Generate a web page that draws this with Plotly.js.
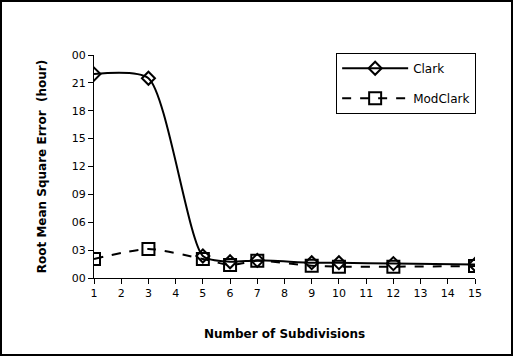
<!DOCTYPE html>
<html>
<head>
<meta charset="utf-8">
<script src="https://cdn.plot.ly/plotly-3.0.1.min.js"></script>
<style>
  html, body { margin: 0; padding: 0; background: #fff; }
  #wrap { position: relative; width: 513px; height: 356px; }
  #chart { width: 513px; height: 356px; }
  #frame { position: absolute; left: 0; top: 0; width: 513px; height: 356px; box-sizing: border-box; border: 2px solid #000; pointer-events: none; }
</style>
</head>
<body>
<div id="wrap"><div id="chart"></div><div id="frame"></div></div>
<script>
const subdivisions = [1, 3, 5, 6, 7, 9, 10, 12, 15];
const clark = [21.95, 21.5, 2.37, 1.75, 1.9, 1.65, 1.65, 1.55, 1.45];
const modClark = [2.05, 3.12, 2.05, 1.4, 1.85, 1.32, 1.22, 1.22, 1.28];
const yTickVals = [0, 3, 6, 9, 12, 15, 18, 21, 24];
const yTickText = ["00", "03", "06", "09", "12", "15", "18", "21", "00"];
const xTickVals = [1,2,3,4,5,6,7,8,9,10,11,12,13,14,15];

const font = "DejaVu Sans, Verdana, sans-serif";

const traces = [
  {
    x: subdivisions, y: clark, name: "Clark", legendgroup: "a", type: "scatter", mode: "lines+markers",
    line: { color: "#000", width: 2, shape: "spline", smoothing: 0.65 },
    marker: { symbol: "diamond-open", size: 10, color: "#000", line: { width: 2, color: "#000" } }
  },
  {
    x: subdivisions, y: modClark, name: "ModClark", legendgroup: "b", type: "scatter", mode: "lines+markers",
    line: { color: "#000", width: 2, dash: "dash", shape: "spline", smoothing: 0.65 },
    marker: { symbol: "square-open", size: 12, color: "#000", line: { width: 2, color: "#000" } }
  }
];

const layout = {
  width: 513, height: 356,
  margin: { l: 94, r: 38, t: 55, b: 78 },
  paper_bgcolor: "#fff", plot_bgcolor: "#fff",
  font: { family: font, size: 11, color: "#000" },
  showlegend: true,
  legend: {
    x: 1.003, xanchor: "right", y: 1.01, yanchor: "top",
    bordercolor: "#000", borderwidth: 1, bgcolor: "#fff",
    font: { family: font, size: 12, color: "#000" },
    itemwidth: 66, tracegroupgap: 11
  },
  xaxis: {
    range: [1, 15], tickvals: xTickVals, ticktext: xTickVals.map(String),
    showgrid: false, zeroline: false, showline: true, linecolor: "#000", linewidth: 1,
    ticks: "outside", ticklen: 5, tickcolor: "#000",
    tickfont: { family: font, size: 11 },
    title: { text: "<b>Number of Subdivisions</b>", font: { family: font, size: 12 }, standoff: 30 }
  },
  yaxis: {
    range: [0, 24], tickvals: yTickVals, ticktext: yTickText,
    showgrid: false, zeroline: false, showline: true, linecolor: "#000", linewidth: 1,
    ticks: "outside", ticklen: 5, tickcolor: "#000",
    tickfont: { family: font, size: 11 },
    title: { text: "<b>Root Mean Square Error  (hour)</b>", font: { family: font, size: 12 }, standoff: 22 }
  }
};

Plotly.newPlot("chart", traces, layout, { staticPlot: true, displayModeBar: false });
</script>
</body>
</html>
